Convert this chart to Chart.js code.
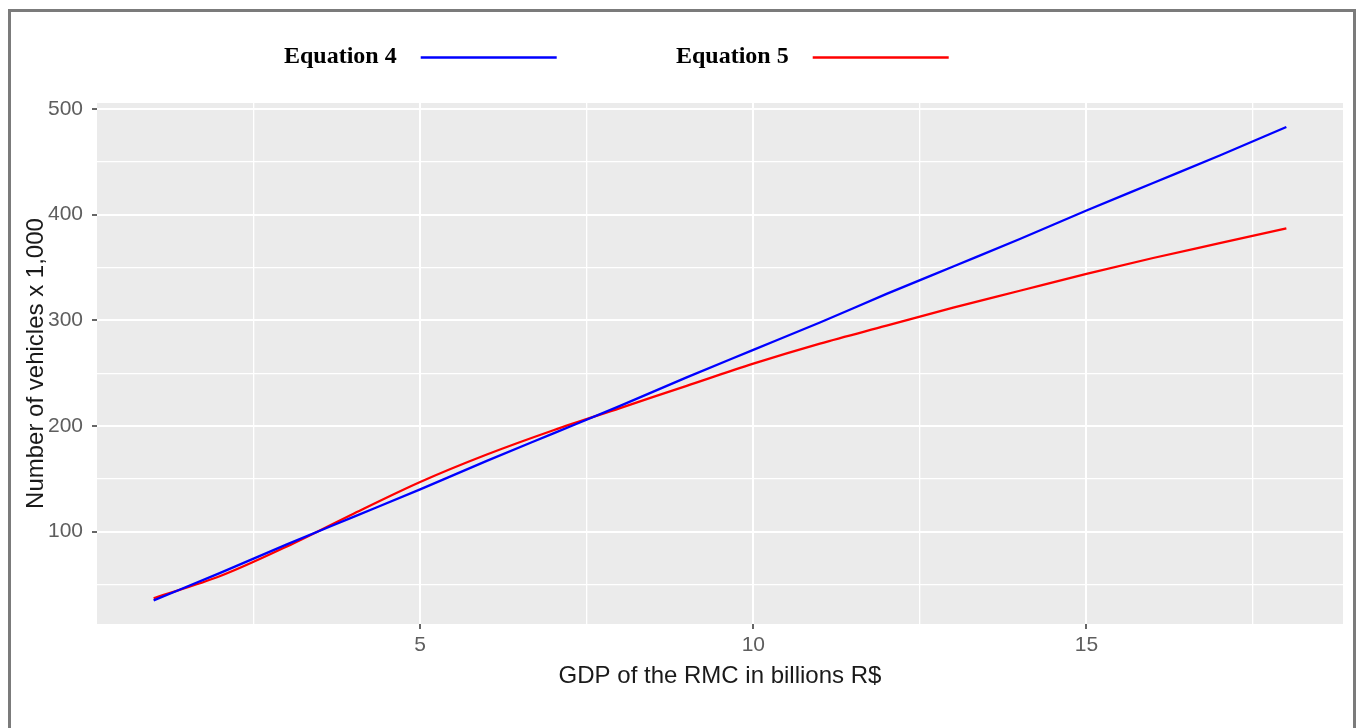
<!DOCTYPE html>
<html>
<head>
<meta charset="utf-8">
<script src="https://cdn.jsdelivr.net/npm/chart.js@4"></script>
<style>
  html, body { margin: 0; padding: 0; background: #fff; overflow: hidden; }
  .frame {
    position: absolute; left: 8px; top: 9px; width: 1348px; height: 760px;
    border: 3px solid #7b7b7b; box-sizing: border-box;
  }
  #chart { position: absolute; left: 0; top: 0; }
</style>
</head>
<body>
<div class="frame"></div>
<canvas id="chart" width="1357" height="728"></canvas>
<script>
// GDP (billions R$) and fitted number of vehicles (x 1,000)
const gdp = [1, 2, 3, 4, 5, 6, 7, 8, 9, 10, 11, 12, 13, 14, 15, 16, 17, 18];
const eq4 = [35, 61, 88, 114, 140, 167, 193, 219, 246, 272, 298, 325, 351, 377, 404, 430, 456, 483];
const eq5 = [37, 58, 86, 117, 147, 173, 196, 217, 238, 259, 278, 295, 312, 328, 344, 359, 373, 387];

const seriesNames = ['Equation 4', 'Equation 5'];
const seriesColors = ['#0000ff', '#ff0000'];

const xMajor = [5, 10, 15];
const xMinor = [2.5, 7.5, 12.5, 17.5];
const yMajor = [100, 200, 300, 400, 500];
const yMinor = [50, 150, 250, 350, 450];

const toPoints = ys => gdp.map((x, i) => ({ x: x, y: ys[i] }));

// grey panel behind the grid, like ggplot
const panelBg = {
    id: 'panelBg',
    beforeDraw(chart) {
        const a = chart.chartArea;
        const ctx = chart.ctx;
        ctx.save();
        ctx.fillStyle = '#ebebeb';
        ctx.fillRect(a.left, a.top, a.right - a.left, a.bottom - a.top);
        ctx.restore();
    }
};

// legend on top: bold label first, then a line sample
const topLegend = {
    id: 'topLegend',
    afterDraw(chart) {
        const ctx = chart.ctx;
        const starts = [284, 676];
        ctx.save();
        ctx.font = 'bold 24px "Liberation Serif", "Times New Roman", serif';
        ctx.textBaseline = 'alphabetic';
        chart.data.datasets.forEach((ds, i) => {
            const x = starts[i];
            ctx.fillStyle = '#000';
            ctx.fillText(ds.label, x, 63);
            const x1 = x + ctx.measureText(ds.label).width + 24;
            ctx.strokeStyle = ds.borderColor;
            ctx.lineWidth = 2.5;
            ctx.beginPath();
            ctx.moveTo(x1, 57.5);
            ctx.lineTo(x1 + 136, 57.5);
            ctx.stroke();
        });
        ctx.restore();
    }
};

const tickFont = { family: '"Liberation Sans", Arial, sans-serif', size: 21 };
const titleFont = { family: '"Liberation Sans", Arial, sans-serif', size: 24 };

new Chart(document.getElementById('chart'), {
    type: 'line',
    data: {
        datasets: [eq4, eq5].map((ys, i) => ({
            label: seriesNames[i],
            data: toPoints(ys),
            borderColor: seriesColors[i],
            borderWidth: 2.3,
            pointRadius: 0,
            fill: false,
            cubicInterpolationMode: 'monotone',
        })),
    },
    options: {
        responsive: false,
        animation: false,
        layout: { padding: { top: 103, right: 14, left: 0, bottom: 0 } },
        plugins: { legend: { display: false }, tooltip: { enabled: false } },
        scales: {
            x: {
                type: 'linear',
                min: 0.15,
                max: 18.85,
                afterBuildTicks: s => { s.ticks = xMinor.concat(xMajor).sort((a, b) => a - b).map(v => ({ value: v })); },
                afterFit: s => { s.height = 104; },
                ticks: {
                    font: tickFont,
                    color: '#5e5e5e',
                    padding: 4,
                    maxRotation: 0,
                    autoSkip: false,
                    callback: v => (xMajor.includes(v) ? String(v) : ''),
                },
                grid: {
                    color: '#ffffff',
                    lineWidth: c => (xMajor.includes(c.tick.value) ? 2 : 1.3),
                    tickColor: c => (xMajor.includes(c.tick.value) ? '#333' : 'rgba(0,0,0,0)'),
                    tickLength: 5,
                    tickWidth: 1.5,
                },
                border: { display: false },
                title: {
                    display: true,
                    text: 'GDP of the RMC in billions R$',
                    font: titleFont,
                    color: '#1a1a1a',
                    padding: { top: 0, bottom: 37 },
                },
            },
            y: {
                type: 'linear',
                min: 12.6,
                max: 505.7,
                afterBuildTicks: s => { s.ticks = yMinor.concat(yMajor).sort((a, b) => a - b).map(v => ({ value: v })); },
                afterFit: s => { s.width = 97; },
                ticks: {
                    font: tickFont,
                    color: '#5e5e5e',
                    padding: 9,
                    autoSkip: false,
                    callback: v => (yMajor.includes(v) ? String(v) : ''),
                },
                grid: {
                    color: '#ffffff',
                    lineWidth: c => (yMajor.includes(c.tick.value) ? 2 : 1.3),
                    tickColor: c => (yMajor.includes(c.tick.value) ? '#333' : 'rgba(0,0,0,0)'),
                    tickLength: 5,
                    tickWidth: 1.5,
                },
                border: { display: false },
                title: {
                    display: true,
                    text: 'Number of vehicles x 1,000',
                    font: titleFont,
                    color: '#1a1a1a',
                    padding: { top: 22, bottom: 0 },
                },
            },
        },
    },
    plugins: [panelBg, topLegend],
});
</script>
</body>
</html>
